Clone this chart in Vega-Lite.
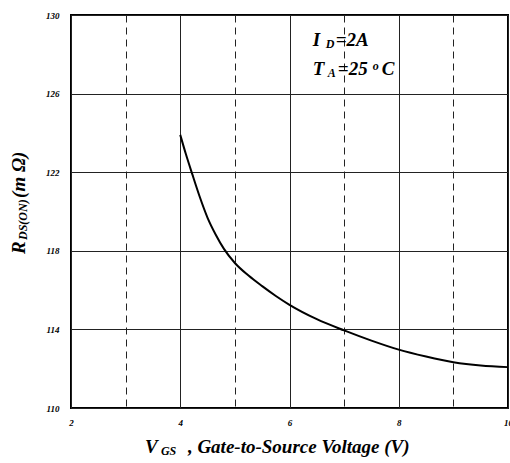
{
  "$schema": "https://vega.github.io/schema/vega-lite/v6.json",
  "width": 437,
  "height": 393,
  "autosize": {"type": "none"},
  "padding": {"left": 71, "top": 15, "right": 2, "bottom": 55},
  "background": "white",
  "config": {
    "view": {"stroke": "black", "strokeWidth": 2},
    "font": "Liberation Serif",
    "text": {"font": "Liberation Serif", "fontStyle": "italic", "fontWeight": "bold", "color": "black"}
  },
  "layer": [
    {
      "data": {
        "values": [
          {"x": 4.0, "y": 123.9},
          {"x": 4.1, "y": 122.95},
          {"x": 4.22, "y": 121.9},
          {"x": 4.35, "y": 120.8},
          {"x": 4.5, "y": 119.68},
          {"x": 4.65, "y": 118.82},
          {"x": 4.8, "y": 118.1},
          {"x": 5.0, "y": 117.38},
          {"x": 5.25, "y": 116.74},
          {"x": 5.5, "y": 116.2},
          {"x": 5.75, "y": 115.7},
          {"x": 6.0, "y": 115.25},
          {"x": 6.5, "y": 114.52},
          {"x": 7.0, "y": 113.95},
          {"x": 7.5, "y": 113.43},
          {"x": 8.0, "y": 112.97},
          {"x": 8.5, "y": 112.62},
          {"x": 9.0, "y": 112.33},
          {"x": 9.5, "y": 112.16},
          {"x": 10.0, "y": 112.08}
        ]
      },
      "mark": {"type": "line", "color": "black", "strokeWidth": 2, "interpolate": "monotone"},
      "encoding": {
        "x": {
          "field": "x",
          "type": "quantitative",
          "scale": {"domain": [2, 10], "nice": false, "zero": false},
          "axis": {
            "title": null,
            "values": [2, 3, 4, 5, 6, 7, 8, 9, 10],
            "grid": true,
            "gridColor": "#222",
            "gridWidth": 1,
            "gridOpacity": 1,
            "gridDash": {"condition": {"test": "datum.value % 2 === 1", "value": [7, 5]}, "value": []},
            "labelExpr": "datum.value % 2 === 0 ? datum.label : ''",
            "ticks": false,
            "domain": false,
            "labelFont": "Liberation Serif",
            "labelFontStyle": "italic",
            "labelFontWeight": "bold",
            "labelFontSize": 9,
            "labelColor": "black",
            "labelPadding": 10,
            "labelFlush": false,
            "labelOverlap": false
          }
        },
        "y": {
          "field": "y",
          "type": "quantitative",
          "scale": {"domain": [110, 130], "nice": false, "zero": false},
          "axis": {
            "title": null,
            "values": [110, 112, 114, 116, 118, 120, 122, 124, 126, 128, 130],
            "grid": true,
            "gridColor": "#222",
            "gridWidth": 1,
            "gridOpacity": 1,
            "gridDash": {"condition": {"test": "(datum.value - 110) % 4 === 2", "value": [7, 5]}, "value": []},
            "labelExpr": "(datum.value - 110) % 4 === 0 ? datum.label : ''",
            "ticks": false,
            "domain": false,
            "labelFont": "Liberation Serif",
            "labelFontStyle": "italic",
            "labelFontWeight": "bold",
            "labelFontSize": 9,
            "labelColor": "black",
            "labelPadding": 12,
            "labelFlush": false,
            "labelOverlap": false
          }
        }
      }
    },
    {
      "data": {
        "values": [
          {"x": 6.427, "y": 128.42, "t": "I"},
          {"x": 6.847, "y": 128.42, "t": "=2A"},
          {"x": 6.427, "y": 126.95, "t": "T"},
          {"x": 6.885, "y": 126.95, "t": "=25"},
          {"x": 7.689, "y": 126.95, "t": "C"},
          {"x": 3.354, "y": 107.71, "t": "V"},
          {"x": 4.14, "y": 107.71, "t": ", Gate-to-Source Voltage (V)"}
        ]
      },
      "mark": {"type": "text", "fontSize": 19, "align": "left", "baseline": "alphabetic"},
      "encoding": {
        "x": {"field": "x", "type": "quantitative"},
        "y": {"field": "y", "type": "quantitative"},
        "text": {"field": "t"}
      }
    },
    {
      "data": {
        "values": [
          {"x": 6.665, "y": 128.32, "t": "D"},
          {"x": 6.7, "y": 126.84, "t": "A"},
          {"x": 7.524, "y": 127.2, "t": "o"},
          {"x": 3.646, "y": 107.61, "t": "GS"}
        ]
      },
      "mark": {"type": "text", "fontSize": 12, "align": "left", "baseline": "alphabetic"},
      "encoding": {
        "x": {"field": "x", "type": "quantitative"},
        "y": {"field": "y", "type": "quantitative"},
        "text": {"field": "t"}
      }
    },
    {
      "data": {
        "values": [
          {"x": 1.159, "y": 117.84, "t": "R"},
          {"x": 1.159, "y": 120.69, "t": "(m Ω)"}
        ]
      },
      "mark": {"type": "text", "fontSize": 19, "align": "left", "baseline": "alphabetic", "angle": 270},
      "encoding": {
        "x": {"field": "x", "type": "quantitative"},
        "y": {"field": "y", "type": "quantitative"},
        "text": {"field": "t"}
      }
    },
    {
      "data": {
        "values": [
          {"x": 1.195, "y": 118.55, "t": "DS(ON)"}
        ]
      },
      "mark": {"type": "text", "fontSize": 12, "align": "left", "baseline": "alphabetic", "angle": 270},
      "encoding": {
        "x": {"field": "x", "type": "quantitative"},
        "y": {"field": "y", "type": "quantitative"},
        "text": {"field": "t"}
      }
    }
  ]
}
